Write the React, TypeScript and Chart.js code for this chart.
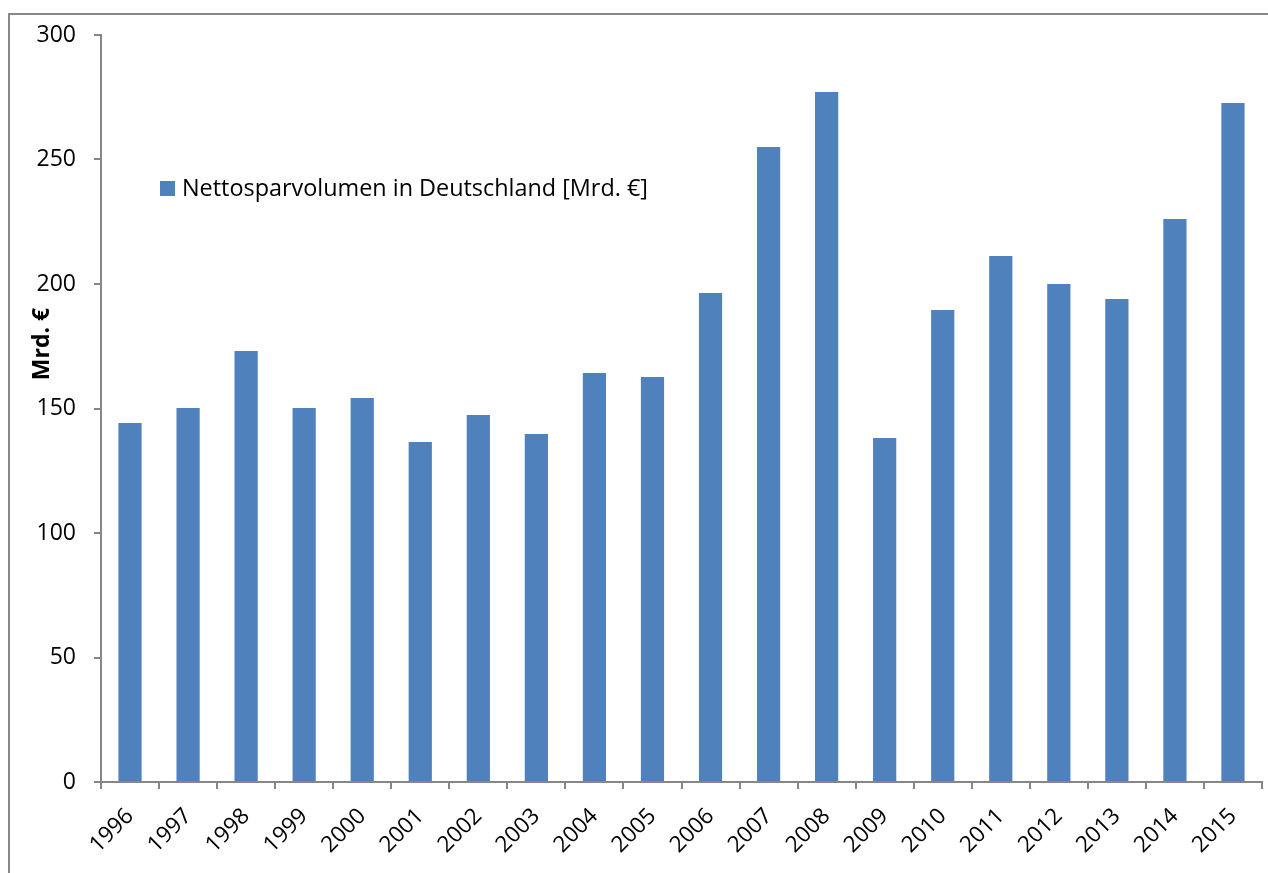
import React, { useEffect, useRef } from "react";
import { Chart, registerables } from "chart.js";

Chart.register(...registerables);

const years = ["1996","1997","1998","1999","2000","2001","2002","2003","2004","2005","2006","2007","2008","2009","2010","2011","2012","2013","2014","2015"];
const savings = [144.2,150.2,173.1,150.2,154.2,136.5,147.4,139.8,164.3,162.7,196.4,255.0,277.1,138.2,189.6,211.2,200.0,194.0,226.1,272.7];
const seriesLabel = "Nettosparvolumen in Deutschland [Mrd. €]";
const yTitle = "Mrd. €";
const FONT = "'Open Sans', 'Liberation Sans', sans-serif";

export default function App() {
  const ref = useRef<HTMLCanvasElement | null>(null);
  useEffect(() => {
    if (!ref.current) return;
    const decor = {
      id: "decor",
      afterDraw(chart: any) {
        const ctx = chart.ctx;
        ctx.save();
        // outer frame
        ctx.strokeStyle = "#898989";
        ctx.lineWidth = 2;
        ctx.strokeRect(9, 14, 1300, 900);
        // y title
        ctx.translate(42, 344);
        ctx.rotate(-Math.PI / 2);
        ctx.fillStyle = "#000";
        ctx.font = `bold 23px ${FONT}`;
        ctx.textAlign = "center";
        ctx.textBaseline = "middle";
        ctx.fillText(yTitle, 0, 0);
        ctx.restore();
        // legend
        ctx.save();
        const ds = chart.data.datasets[0];
        ctx.fillStyle = ds.backgroundColor;
        ctx.fillRect(160, 181, 15, 15);
        ctx.fillStyle = "#000";
        ctx.font = `23.4px ${FONT}`;
        ctx.textBaseline = "middle";
        ctx.textAlign = "left";
        ctx.fillText(ds.label, 182, 189);
        ctx.restore();
      },
    };
    const chart = new Chart(ref.current, {
      type: "bar",
      data: {
        labels: years,
        datasets: [
          {
            label: seriesLabel,
            data: savings,
            backgroundColor: "#4F81BD",
            barPercentage: 0.4,
            categoryPercentage: 1,
          },
        ],
      },
      options: {
        animation: false,
        responsive: false,
        maintainAspectRatio: false,
        layout: { padding: { left: 0, top: 35, right: 6, bottom: 0 } },
        plugins: { legend: { display: false }, tooltip: { enabled: false } },
        scales: {
          x: {
            grid: { drawOnChartArea: false, color: "#868686", tickLength: 7, lineWidth: 2 },
            border: { color: "#868686", width: 2 },
            ticks: { color: "#000", font: { family: FONT, size: 22.5 }, minRotation: 45, maxRotation: 45, padding: 14 },
            afterFit(scale: any) { scale.height = 873 - 782; },
          },
          y: {
            min: 0,
            max: 300,
            grid: { drawOnChartArea: false, color: "#868686", tickLength: 7, lineWidth: 2 },
            border: { color: "#868686", width: 2 },
            ticks: { stepSize: 50, color: "#000", font: { family: FONT, size: 23 }, padding: 18 },
            afterFit(scale: any) { scale.width = 101; },
          },
        },
      },
      plugins: [decor],
    });
    return () => chart.destroy();
  }, []);
  return (
    <div style={{ position: "fixed", left: 0, top: 0, width: 1268, height: 873, background: "#fff" }}>
      <canvas ref={ref} width={1268} height={873} style={{ width: 1268, height: 873, display: "block" }} />
    </div>
  );
}
